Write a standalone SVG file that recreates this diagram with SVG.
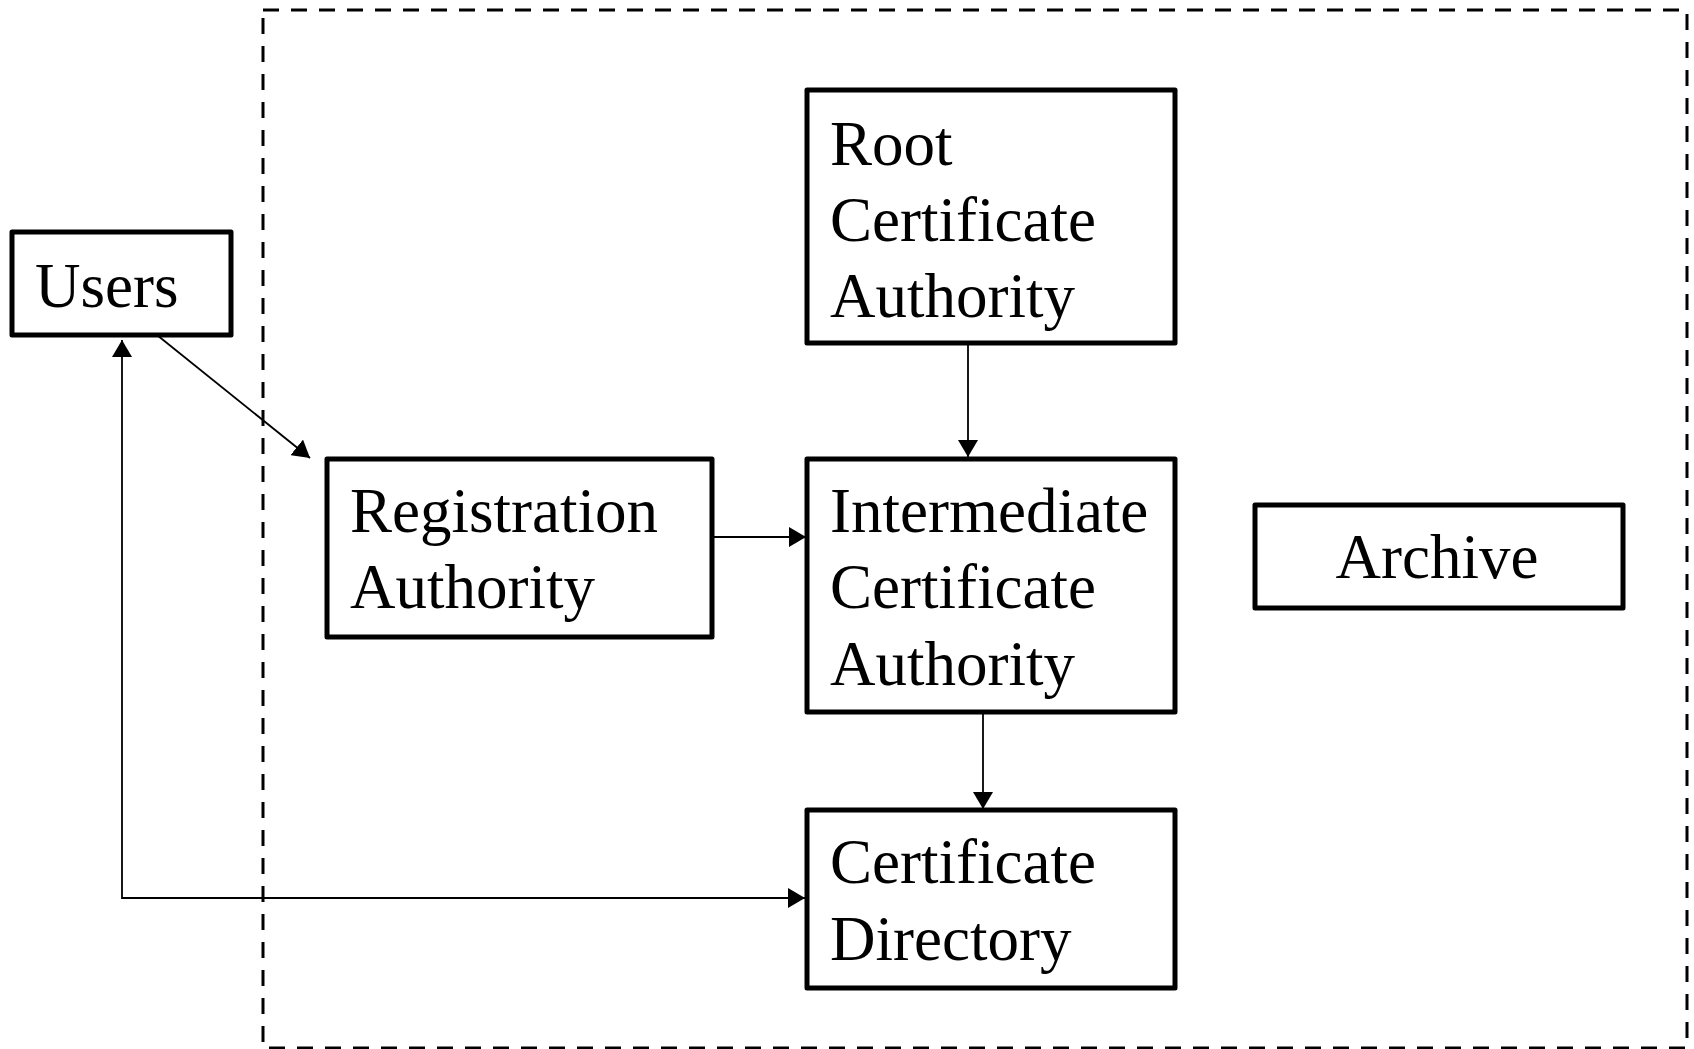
<svg xmlns="http://www.w3.org/2000/svg" width="1694" height="1049" viewBox="0 0 1694 1049">
<style>
.box{fill:#fff;stroke:#000;stroke-width:5;stroke-linejoin:round}
.lbl{font-family:"Liberation Serif","Times New Roman",serif;font-size:63px;fill:#000}
.con{fill:none;stroke:#000;stroke-width:1.8}
</style>
<defs>
<marker id="ah" markerUnits="userSpaceOnUse" markerWidth="18" markerHeight="20" refX="17" refY="10" orient="auto-start-reverse">
<path d="M0,0 L17,10 L0,20 z" fill="#000"/>
</marker>
</defs>
<rect width="1694" height="1049" fill="#fff"/>
<rect x="263" y="10" width="1424" height="1038" fill="none" stroke="#000" stroke-width="3" stroke-dasharray="16 12"/>
<g id="connectors">
<line class="con" x1="152" y1="331" x2="310" y2="458" marker-end="url(#ah)"/>
<polyline class="con" points="122,340 122,898 805,898" marker-start="url(#ah)" marker-end="url(#ah)"/>
<line class="con" x1="968" y1="344" x2="968" y2="457" marker-end="url(#ah)"/>
<line class="con" x1="712" y1="537" x2="806" y2="537" marker-end="url(#ah)"/>
<line class="con" x1="983" y1="712" x2="983" y2="809" marker-end="url(#ah)"/>
</g>
<g id="users">
<rect class="box" x="12" y="232" width="219" height="103"/>
<text class="lbl" x="35" y="307">Users</text>
</g>
<g id="root-ca">
<rect class="box" x="807" y="90" width="368" height="253"/>
<text class="lbl" x="830" y="165">Root</text>
<text class="lbl" x="830" y="241">Certificate</text>
<text class="lbl" x="830" y="317">Authority</text>
</g>
<g id="registration-authority">
<rect class="box" x="327" y="459" width="385" height="178"/>
<text class="lbl" x="350" y="532">Registration</text>
<text class="lbl" x="350" y="608">Authority</text>
</g>
<g id="intermediate-ca">
<rect class="box" x="807" y="459" width="368" height="253"/>
<text class="lbl" x="830" y="532">Intermediate</text>
<text class="lbl" x="830" y="608">Certificate</text>
<text class="lbl" x="830" y="685">Authority</text>
</g>
<g id="archive">
<rect class="box" x="1255" y="505" width="368" height="103"/>
<text class="lbl" x="1437" y="578" text-anchor="middle">Archive</text>
</g>
<g id="certificate-directory">
<rect class="box" x="807" y="810" width="368" height="178"/>
<text class="lbl" x="830" y="883">Certificate</text>
<text class="lbl" x="830" y="960">Directory</text>
</g>
</svg>
